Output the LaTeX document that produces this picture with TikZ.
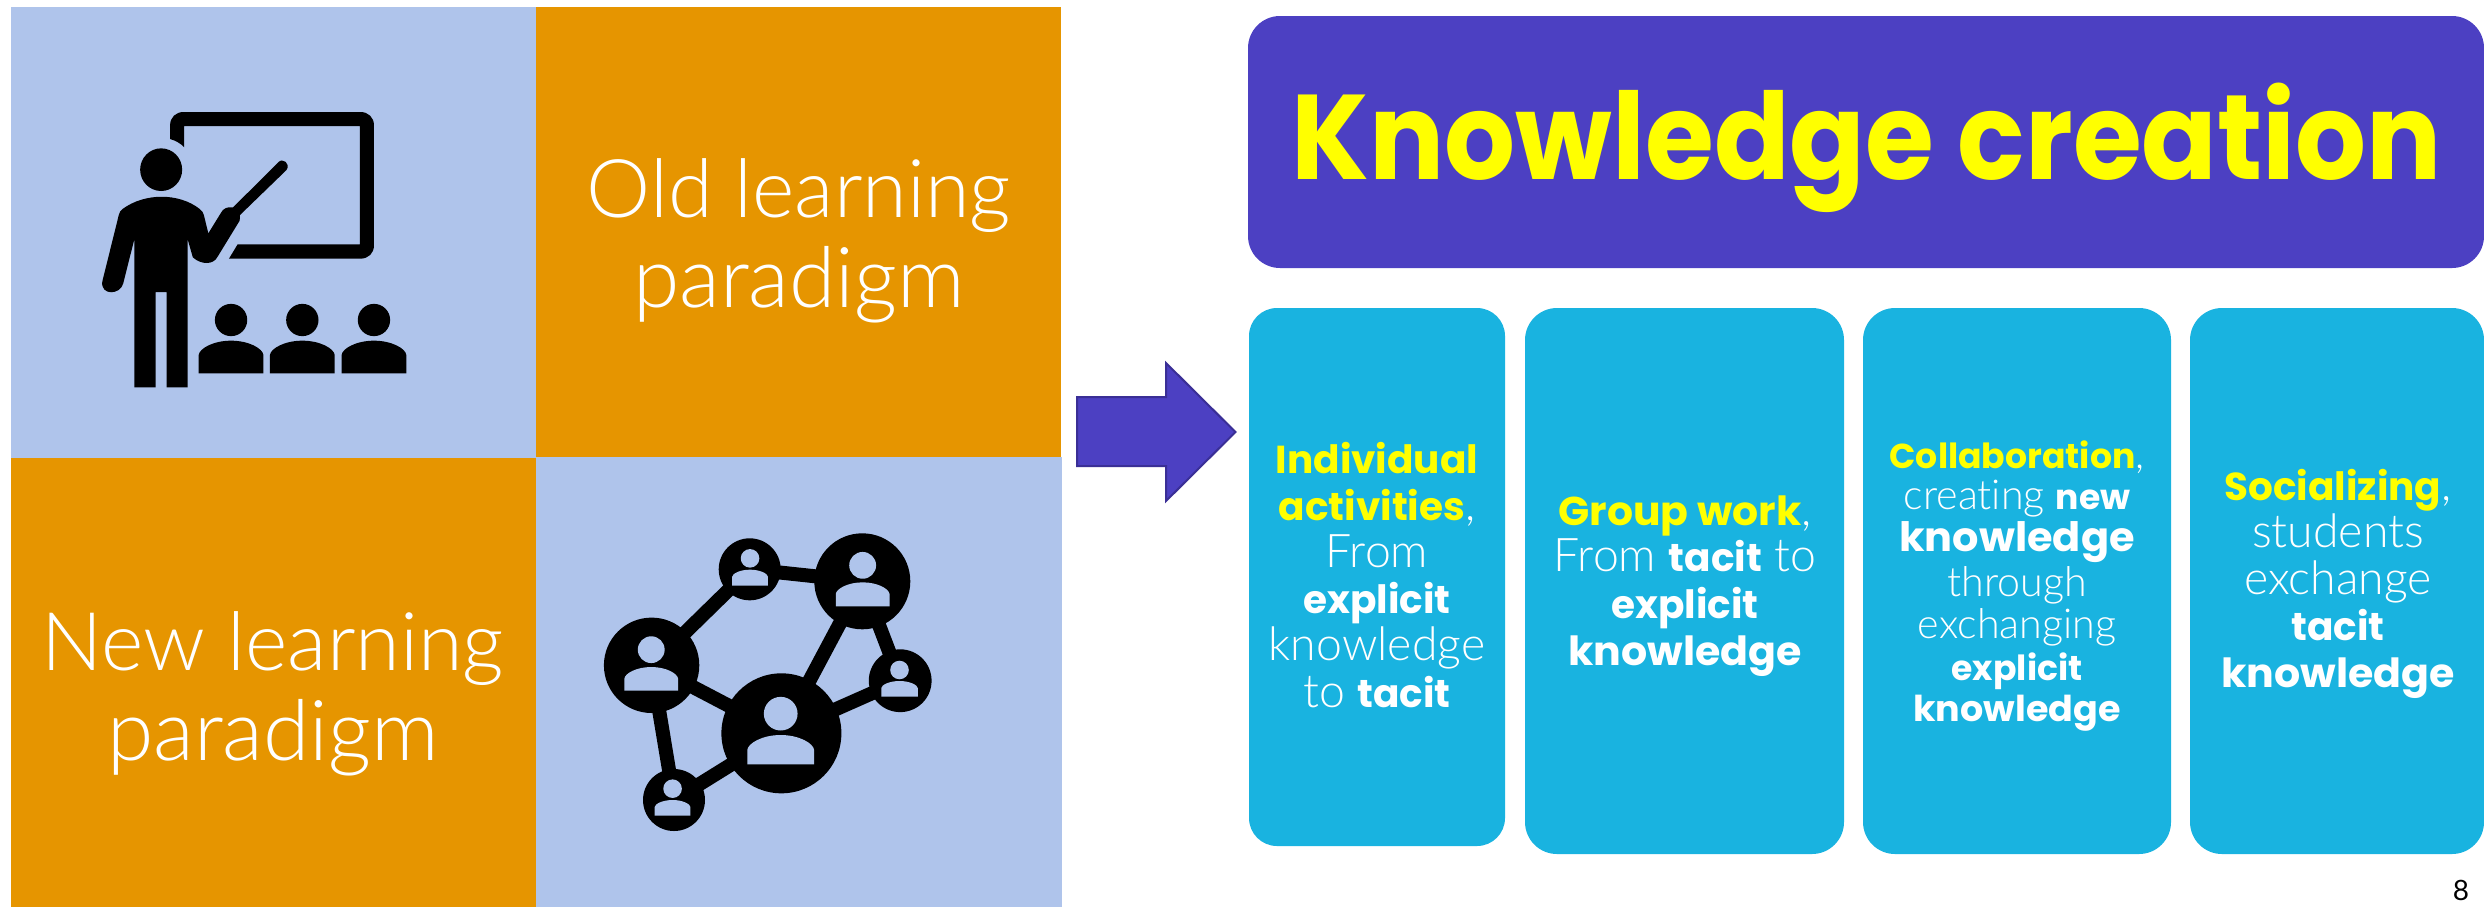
\documentclass[tikz,border=0pt]{standalone}
\usepackage{graphicx}
\usepackage{fontspec}
\setmainfont{Lato}[UprightFont=* Light,BoldFont=Poppins Bold,BoldFeatures={Scale=0.84},Ligatures=NoCommon]
\newfontfamily\regf{Lato}
\definecolor{paleblue}{HTML}{AFC4EB}
\definecolor{amber}{HTML}{E69500}
\definecolor{violet}{HTML}{4C40C2}
\definecolor{violetline}{HTML}{3A2F96}
\definecolor{skybox}{HTML}{19B3E0}
\definecolor{hiyellow}{HTML}{FFFF00}
\newcommand\hl[1]{\textcolor{hiyellow}{\textbf{#1}}}
\newcommand\kw{\scalebox{1.055}[1.03]{\textbf{knowledge}}}
% head cx, head cy, head rx, half width, top, shoulder, bottom, colour (in zoom units)
\newcommand\figglyph[8]{%
  \fill[#8] (#1,#2) ellipse ({#3} and {#3*1.03});
  \fill[#8] ({#1-#4},#7) -- ({#1-#4},#6)
     .. controls ({#1-#4*0.98},{#6-(#6-#5)*0.45}) and ({#1-#4*0.55},#5) .. (#1,#5)
     .. controls ({#1+#4*0.55},#5) and ({#1+#4*0.98},{#6-(#6-#5)*0.45}) .. ({#1+#4},#6)
     -- ({#1+#4},#7) -- cycle;
}
\tikzset{
  cardbox/.style={fill=skybox,draw=none,inner sep=0pt,outer sep=0pt},
  cardtext/.style={text=white,align=center,inner sep=0pt,font=\fontsize{23.2}{23.4}\selectfont},
  smalltext/.style={text=white,align=center,inner sep=0pt,font=\fontsize{20.6}{20.8}\selectfont},
  bigtext/.style={text=white,align=center,inner sep=0pt,font=\fontsize{40.5}{45}\selectfont},
  hubnode/.style={circle,fill=black,inner sep=0pt,outer sep=0pt},
  linkline/.style={line width=7pt,black}
}
\begin{document}
\begin{tikzpicture}[x=0.5pt,y=-0.5pt]
\useasboundingbox (0,0) rectangle (2484,907);
\fill[white] (0,0) rectangle (2484,907);
% grid
\fill[paleblue] (11,7) rectangle (536,458);
\fill[amber] (536,7) rectangle (1061,457);
\fill[amber] (11,458) rectangle (536,907);
\fill[paleblue] (536,457) rectangle (1062,907);
\node[bigtext] (oldt) at (799,241) {Old learning\\{\fontsize{42}{45}\selectfont paradigm}};
\node[bigtext] (newt) at (273,694) {New learning\\{\fontsize{42}{45}\selectfont paradigm}};
% teacher icon
\begin{scope}[xscale=1/2.904,yscale=1/3]
\fill[black] (494,417) -- (494,376) .. controls (494,352) and (510,336) .. (534,336)
  -- (1046,336) .. controls (1070,336) and (1086,352) .. (1086,376)
  -- (1086,736) .. controls (1086,760) and (1070,776) .. (1046,776)
  -- (665,776) -- (690,733) -- (1045,733) -- (1045,378) -- (535,378) -- (535,442)
  .. controls (525,430) and (510,422) .. (494,417) -- cycle;
\fill[black] (468,509) ellipse (61 and 64);
\fill[black] (390,718) -- (358,850) .. controls (350,885) and (292,888) .. (297,845)
  -- (345,645) .. controls (347,635) and (350,632) .. (356,627)
  .. controls (420,578) and (520,578) .. (580,627)
  .. controls (587,632) and (590,638) .. (592,645)
  -- (605,700) -- (642,638) .. controls (648,625) and (660,620) .. (677,622)
  -- (808,487) .. controls (820,472) and (845,490) .. (832,510)
  -- (697,645) -- (696,662) -- (632,770) .. controls (620,795) and (585,795) .. (560,772)
  -- (545,718) -- (545,1162) -- (484,1162) -- (484,876) -- (452,876) -- (452,1162)
  -- (390,1162) -- cycle;
\figglyph{671}{960}{47}{94}{1022}{1065}{1120}{black}
\figglyph{878}{960}{47}{94}{1022}{1065}{1120}{black}
\figglyph{1086}{960}{47}{94}{1022}{1065}{1120}{black}
\end{scope}
% network icon
\node[hubnode,minimum size=60pt] (hubA) at (781.4,733.3) {};
\node[hubnode,minimum size=48pt] (hubB) at (862.3,581.3) {};
\node[hubnode,minimum size=47.7pt] (hubC) at (651.6,665.3) {};
\node[hubnode,minimum size=31pt] (hubD) at (749.7,569.3) {};
\node[hubnode,minimum size=31.4pt] (hubE) at (900.2,680.7) {};
\node[hubnode,minimum size=31pt] (hubF) at (674,800) {};
\draw[linkline] (hubA.center) -- (hubB.center);
\draw[linkline] (hubA.center) -- (hubC.center);
\draw[linkline] (hubA.center) -- (hubE.center);
\draw[linkline] (hubA.center) -- (hubF.center);
\draw[linkline] (hubB.center) -- (hubD.center);
\draw[linkline] (hubB.center) -- (hubE.center);
\draw[linkline] (hubC.center) -- (hubD.center);
\draw[linkline] (hubC.center) -- (hubF.center);
\begin{scope}[shift={(540,460)},xscale=1/2.904,yscale=1/3]
\figglyph{699}{761}{49}{97}{825}{870}{913}{paleblue}
\figglyph{937}{316}{39}{78}{367}{402}{439}{paleblue}
\figglyph{323}{569}{39}{78}{621}{656}{692}{paleblue}
\figglyph{610}{295}{27}{52}{329}{350}{377}{paleblue}
\figglyph{1044}{630}{27}{53}{663}{684}{710}{paleblue}
\figglyph{385}{986}{27}{52}{1020}{1041}{1067}{paleblue}
\end{scope}
% arrow
\draw[fill=violet,draw=violetline,line width=1pt,line join=miter] (1077,397) -- (1166,397) -- (1166,363) -- (1235.5,432) -- (1166,501) -- (1166,466) -- (1077,466) -- cycle;
% title
\node[fill=violet,rounded corners=16pt,minimum width=618pt,minimum height=126pt,inner sep=0pt,outer sep=0pt] (titlebox) at (1866,142) {};
\node[anchor=base,inner sep=0pt,text=hiyellow,font=\fontsize{66.4}{70}\selectfont\bfseries] (titlet) at (1867,179) {\scalebox{1}[1.08]{Knowledge creation}};
% cards
\node[cardbox,rounded corners=14pt,minimum width=128pt,minimum height=269pt] (c1) at (1377,577) {};
\node[cardbox,rounded corners=16pt,minimum width=159.5pt,minimum height=273pt] (c2) at (1684.5,581) {};
\node[cardbox,rounded corners=16pt,minimum width=154pt,minimum height=273pt] (c3) at (2017,581) {};
\node[cardbox,rounded corners=16pt,minimum width=147pt,minimum height=273pt] (c4) at (2337,581) {};
\node[cardtext] (t1) at (1377,575) {\hl{Individual}\\\hl{activities},\\From\\\textbf{explicit}\\knowledge\\to \textbf{tacit}};
\node[cardtext] (t2) at (1685,586) {\scalebox{1.05}[1.03]{\hl{Group work}},\\From \textbf{tacit} to\\\textbf{explicit}\\\kw};
\node[smalltext] (t3) at (2017,586) {\hl{Collaboration},\\creating \textbf{new}\\{\fontsize{23.4}{20.8}\selectfont\kw}\\[2pt]through\\exchanging\\\textbf{explicit}\\\kw};
\node[cardtext] (t4) at (2338,584) {\hl{Socializing},\\students\\exchange\\\textbf{tacit}\\\kw};
\node[anchor=base,inner sep=0pt,text=black,font=\regf\fontsize{14}{15}\selectfont] (pnum) at (2461,900) {8};
\end{tikzpicture}
\end{document}
